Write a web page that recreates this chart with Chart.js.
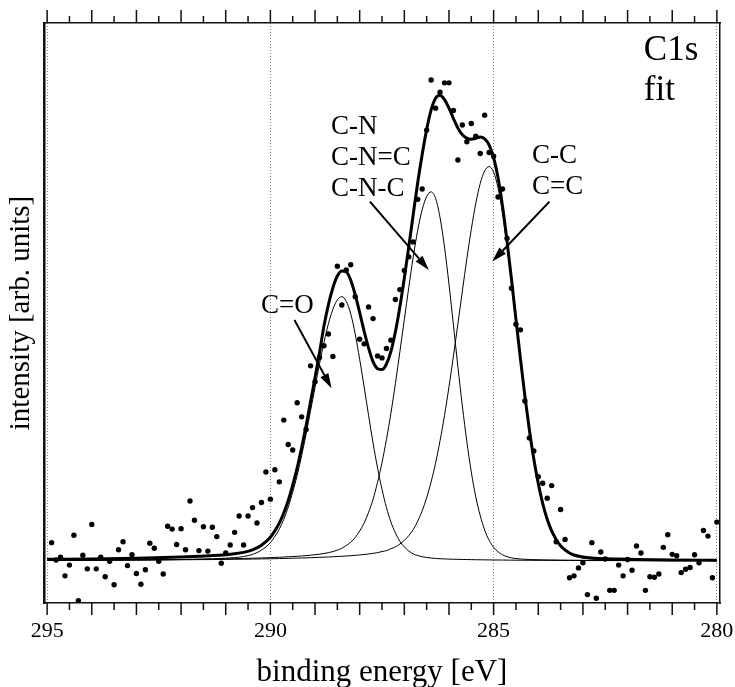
<!DOCTYPE html>
<html>
<head>
<meta charset="utf-8">
<title>C1s fit</title>
<script src="https://cdn.jsdelivr.net/npm/chart.js@4.4.1/dist/chart.umd.min.js"></script>
<style>
  html, body { margin: 0; padding: 0; background: #fff; }
  canvas { display: block; }
</style>
</head>
<body>
<canvas id="c1s" width="735" height="687"></canvas>
<script>
// measured C1s spectrum (binding energy in eV, intensity in arb. units)
const measuredEnergy = [
  294.9, 294.8, 294.7, 294.6, 294.5, 294.4, 294.3, 294.2, 294.1, 294.0,
  293.9, 293.8, 293.7, 293.6, 293.5, 293.4, 293.3, 293.2, 293.1, 293.0,
  292.9, 292.8, 292.7, 292.6, 292.5, 292.4, 292.3, 292.2, 292.1, 292.0,
  291.9, 291.8, 291.7, 291.6, 291.5, 291.4, 291.3, 291.2, 291.1, 291.0,
  290.9, 290.8, 290.7, 290.6, 290.5, 290.4, 290.3, 290.2, 290.1, 290.0,
  289.9, 289.8, 289.7, 289.6, 289.5, 289.4, 289.3, 289.2, 289.1, 289.0,
  288.9, 288.8, 288.7, 288.6, 288.5, 288.4, 288.3, 288.2, 288.1, 288.0,
  287.9, 287.8, 287.7, 287.6, 287.5, 287.4, 287.3, 287.2, 287.1, 287.0,
  286.9, 286.8, 286.7, 286.6, 286.5, 286.4, 286.3, 286.2, 286.1, 286.0,
  285.9, 285.8, 285.7, 285.6, 285.5, 285.4, 285.3, 285.2, 285.1, 285.0,
  284.9, 284.8, 284.7, 284.6, 284.5, 284.4, 284.3, 284.2, 284.1, 284.0,
  283.9, 283.8, 283.7, 283.6, 283.5, 283.4, 283.3, 283.2, 283.1, 283.0,
  282.9, 282.8, 282.7, 282.6, 282.5, 282.4, 282.3, 282.2, 282.1, 282.0,
  281.9, 281.8, 281.7, 281.6, 281.5, 281.4, 281.3, 281.2, 281.1, 281.0,
  280.9, 280.8, 280.7, 280.6, 280.5, 280.4, 280.3, 280.2, 280.1, 280.0
];
const measuredIntensity = [
  3.9, 0.2, 0.8, -3.2, -0.9, 5.5, -8.5, 1.2, -1.7, 7.8,
  -1.7, 0.8, -3.4, -0.1, -5.1, 2.4, 4.1, -1.0, 1.3, -2.7,
  -5.0, -1.9, 3.8, 2.7, -0.1, -2.8, 7.4, 6.8, 3.5, 6.9,
  2.4, 12.8, 8.7, 2.2, 7.3, 2.1, 7.2, 5.2, -0.5, 1.7,
  3.4, 6.1, 9.6, 3.4, 9.6, 11.4, 8.1, 12.5, 19.0, 13.2,
  19.5, 16.9, 30.1, 24.9, 23.7, 33.8, 30.8, 28.1, 41.7, 38.3,
  43.5, 46.0, 48.5, 43.7, 63.0, 54.7, 62.2, 63.3, 56.5, 47.4,
  46.4, 54.3, 51.8, 43.8, 43.4, 45.4, 47.2, 55.9, 58.0, 62.1,
  65.0, 68.2, 77.3, 79.5, 92.1, 102.8, 96.8, 100.2, 102.2, 102.2,
  96.3, 85.7, 93.2, 89.6, 93.5, 90.8, 87.1, 95.3, 87.3, 86.5,
  77.8, 79.5, 69.0, 58.3, 50.6, 49.4, 34.2, 26.3, 23.5, 18.0,
  16.6, 13.4, 16.1, 4.1, 11.0, 4.6, -3.6, -3.2, -1.5, -0.4,
  -7.2, 3.9, -8.0, 1.9, 0.4, -6.3, -6.3, -0.9, -3.2, 0.3,
  -2.0, 3.2, 1.7, -6.3, -3.4, -3.5, -2.8, 2.9, 5.6, 1.4,
  1.1, -2.5, -1.8, -1.4, 1.3, -0.4, 6.5, 5.3, -3.6, 8.3
];

// fitted curves, sampled at fitEnergy
const fitEnergy = [
  295.0, 294.0, 293.0, 292.4, 292.0, 291.6, 291.3, 291.0, 290.8, 290.6, 290.4, 290.2,
  290.0, 289.9, 289.8, 289.7, 289.6, 289.5, 289.4, 289.3, 289.2, 289.1,
  289.0, 288.9, 288.8, 288.7, 288.6, 288.5, 288.4, 288.3, 288.2, 288.1,
  288.0, 287.9, 287.8, 287.7, 287.6, 287.5, 287.4, 287.3, 287.2, 287.1,
  287.0, 286.9, 286.8, 286.7, 286.6, 286.5, 286.4, 286.3, 286.2, 286.1,
  286.0, 285.9, 285.8, 285.7, 285.6, 285.5, 285.4, 285.3, 285.2, 285.1,
  285.0, 284.9, 284.8, 284.7, 284.6, 284.5, 284.4, 284.3, 284.2, 284.1,
  284.0, 283.9, 283.8, 283.7, 283.6, 283.5, 283.4, 283.3, 283.2,
  283.0, 282.8, 282.5, 282.2, 281.8, 281.0, 280.0
];
const fitCO = [
  0.09, 0.13, 0.19, 0.25, 0.30, 0.38, 0.45, 0.58, 0.71, 0.94, 1.4, 2.3,
  3.9, 5.2, 6.8, 8.9, 11.5, 14.7, 18.3, 22.5, 27.1, 32.1,
  37.1, 42.1, 46.7, 50.7, 53.8, 55.8, 56.5, 55.5, 52.8, 48.5,
  43.1, 37.2, 31.1, 25.2, 19.9, 15.3, 11.4, 8.3, 6.0, 4.2,
  3.0, 2.1, 1.5, 1.15, 0.89, 0.72, 0.61, 0.53, 0.46, 0.43,
  0.38, 0.36, 0.33, 0.31, 0.29, 0.27, 0.25, 0.24, 0.22, 0.21,
  0.20, 0.19, 0.18, 0.17, 0.16, 0.15, 0.14, 0.14, 0.13, 0.12,
  0.12, 0.11, 0.11, 0.10, 0.10, 0.09, 0.09, 0.09, 0.08,
  0.08, 0.07, 0.07, 0.06, 0.05, 0.04, 0.03
];
const fitCN = [
  0.13, 0.16, 0.22, 0.26, 0.30, 0.34, 0.39, 0.44, 0.48, 0.52, 0.57, 0.63,
  0.70, 0.74, 0.78, 0.83, 0.88, 0.93, 0.99, 1.06, 1.13, 1.22,
  1.32, 1.44, 1.59, 1.76, 2.0, 2.3, 2.7, 3.3, 4.0, 5.0,
  6.4, 8.1, 10.4, 13.2, 16.8, 21.0, 26.0, 31.6, 37.9, 44.7,
  51.6, 58.5, 65.0, 70.7, 75.1, 77.9, 78.9, 77.5, 73.4, 67.1,
  59.2, 50.4, 41.5, 33.1, 25.5, 19.0, 13.7, 9.7, 6.6, 4.4,
  2.9, 1.95, 1.31, 0.90, 0.65, 0.50, 0.41, 0.35, 0.31, 0.27,
  0.25, 0.23, 0.21, 0.20, 0.19, 0.17, 0.16, 0.15, 0.14,
  0.13, 0.12, 0.10, 0.09, 0.07, 0.05, 0.04
];
const fitCC = [
  0.12, 0.14, 0.18, 0.21, 0.24, 0.27, 0.29, 0.32, 0.35, 0.37, 0.40, 0.43,
  0.46, 0.48, 0.50, 0.52, 0.55, 0.57, 0.60, 0.63, 0.65, 0.69,
  0.72, 0.76, 0.80, 0.84, 0.89, 0.94, 0.99, 1.05, 1.11, 1.19,
  1.27, 1.37, 1.48, 1.61, 1.77, 2.0, 2.2, 2.6, 3.0, 3.6,
  4.4, 5.4, 6.7, 8.5, 10.7, 13.5, 16.9, 20.9, 25.7, 31.1,
  37.2, 43.8, 50.7, 57.7, 64.6, 70.9, 76.4, 80.7, 83.4, 84.3,
  83.1, 79.7, 74.3, 67.3, 59.4, 51.0, 42.7, 34.8, 27.6, 21.4,
  16.2, 11.9, 8.6, 6.1, 4.3, 3.0, 2.1, 1.45, 1.05,
  0.61, 0.41, 0.29, 0.24, 0.19, 0.12, 0.08
];
const fitSum = [
  0.34, 0.43, 0.59, 0.72, 0.84, 0.99, 1.13, 1.34, 1.54, 1.83, 2.37, 3.36,
  5.06, 6.42, 8.08, 10.25, 12.93, 16.2, 19.89, 24.19, 28.88, 34.01,
  39.14, 44.5, 50.2, 54.8, 58.4, 60.9, 62.0, 61.8, 60.0, 56.9,
  53.1, 49.1, 45.5, 42.6, 41.1, 40.9, 42.1, 44.8, 49.0, 54.3,
  60.5, 67.2, 74.1, 80.9, 86.9, 92.2, 96.41, 98.93, 99.56, 98.63,
  96.78, 94.56, 92.53, 91.11, 90.39, 90.17, 90.35, 90.64, 90.22, 88.91,
  86.2, 81.84, 75.79, 68.37, 60.21, 51.65, 43.25, 35.29, 28.04, 21.79,
  16.57, 12.24, 8.92, 6.4, 4.59, 3.26, 2.35, 1.69, 1.27,
  0.82, 0.60, 0.46, 0.39, 0.31, 0.21, 0.15
];

// peak assignments: text anchored at [energy, intensity], arrows from -> to
const peakLabels = [
  { lines: ['C=O'], at: [290.21, 53.0] },
  { lines: ['C-N', 'C-N=C', 'C-N-C'], at: [288.64, 91.2] },
  { lines: ['C-C', 'C=C'], at: [284.14, 85.0] }
];
const peakArrows = [
  { from: [289.46, 51.5], to: [288.63, 36.9] },
  { from: [287.77, 76.8], to: [286.45, 62.2] },
  { from: [283.75, 76.8], to: [285.03, 64.0] }
];
const cornerLabel = { lines: ['C1s', 'fit'], at: [281.635, 107.0] };

const SERIF = "'Liberation Serif', 'Times New Roman', serif";

function points(values) {
  return fitEnergy.map((e, i) => ({ x: e, y: values[i] }));
}

// long ticks on whole eV, short ones on the half, top and bottom
const frameTicks = {
  id: 'frameTicks',
  afterDraw(chart) {
    const { ctx, chartArea: a, scales: { x } } = chart;
    ctx.save();
    ctx.strokeStyle = '#111';
    ctx.lineWidth = 1.5;
    x.ticks.forEach(t => {
      const px = x.getPixelForValue(t.value);
      const major = Math.abs(t.value - Math.round(t.value)) < 1e-6;
      ctx.beginPath();
      ctx.moveTo(px, a.bottom);
      ctx.lineTo(px, a.bottom + (major ? 12 : 7));
      ctx.moveTo(px, a.top);
      ctx.lineTo(px, a.top - (major ? 13 : 7));
      ctx.stroke();
    });
    ctx.restore();
  }
};

function drawArrow(ctx, x1, y1, x2, y2) {
  const ang = Math.atan2(y2 - y1, x2 - x1);
  const len = 15, half = 4.5;
  const bx = x2 - len * Math.cos(ang), by = y2 - len * Math.sin(ang);
  ctx.beginPath();
  ctx.moveTo(x1, y1);
  ctx.lineTo(bx, by);
  ctx.stroke();
  ctx.beginPath();
  ctx.moveTo(x2, y2);
  ctx.lineTo(bx + half * Math.sin(ang), by - half * Math.cos(ang));
  ctx.lineTo(bx - half * Math.sin(ang), by + half * Math.cos(ang));
  ctx.closePath();
  ctx.fill();
}

const peakNotes = {
  id: 'peakNotes',
  afterDatasetsDraw(chart) {
    const { ctx, scales: { x, y } } = chart;
    ctx.save();
    ctx.fillStyle = '#000';
    ctx.strokeStyle = '#000';
    ctx.lineWidth = 2;
    ctx.textAlign = 'left';
    ctx.textBaseline = 'alphabetic';
    ctx.font = '27px ' + SERIF;
    peakLabels.forEach(l => {
      const px = x.getPixelForValue(l.at[0]), py = y.getPixelForValue(l.at[1]);
      l.lines.forEach((s, i) => ctx.fillText(s, px, py + i * 31));
    });
    peakArrows.forEach(a => {
      drawArrow(ctx,
        x.getPixelForValue(a.from[0]), y.getPixelForValue(a.from[1]),
        x.getPixelForValue(a.to[0]), y.getPixelForValue(a.to[1]));
    });
    ctx.font = '35px ' + SERIF;
    const cx = x.getPixelForValue(cornerLabel.at[0]), cy = y.getPixelForValue(cornerLabel.at[1]);
    cornerLabel.lines.forEach((s, i) => ctx.fillText(s, cx, cy + i * 40));
    ctx.restore();
  }
};

const E_MIN = 279.93, E_MAX = 295.07, I_MIN = -9, I_MAX = 115;

new Chart(document.getElementById('c1s'), {
  type: 'line',
  data: {
    datasets: [
      {
        label: 'measured',
        data: measuredEnergy.map((e, i) => ({ x: e, y: measuredIntensity[i] })),
        showLine: false,
        pointRadius: 2.7,
        pointBorderWidth: 0,
        pointBackgroundColor: '#000',
        borderColor: '#000'
      },
      { label: 'fit', data: points(fitSum), borderWidth: 3 },
      { label: 'C=O', data: points(fitCO), borderWidth: 1 },
      { label: 'C-N', data: points(fitCN), borderWidth: 1 },
      { label: 'C-C', data: points(fitCC), borderWidth: 1 }
    ]
  },
  options: {
    responsive: false,
    animation: false,
    devicePixelRatio: 1,
    layout: { padding: 0 },
    plugins: { legend: { display: false }, tooltip: { enabled: false } },
    elements: {
      point: { radius: 0, hoverRadius: 0 },
      line: { borderColor: '#000', fill: false, cubicInterpolationMode: 'monotone' }
    },
    scales: {
      x: {
        type: 'linear', position: 'bottom', reverse: true, min: E_MIN, max: E_MAX,
        afterFit: s => { s.height = 84; s.paddingLeft = 0; s.paddingRight = 0; },
        ticks: {
          stepSize: 0.5, autoSkip: false, maxRotation: 0, includeBounds: false,
          padding: 15, color: '#000', font: { family: SERIF, size: 22 },
          callback: v => (Math.abs(v % 5) < 1e-6 ? String(v) : '')
        },
        grid: {
          drawTicks: false,
          color: c => (c.tick && Math.abs(c.tick.value % 5) < 1e-6 ? '#8a8a8a' : 'rgba(0,0,0,0)'),
          lineWidth: 1
        },
        border: { color: '#111', width: 1.5, dash: [1, 2] },
        title: {
          display: true, text: 'binding energy [eV]', color: '#000',
          font: { family: SERIF, size: 31 }, padding: { top: 0, bottom: -4 }
        }
      },
      x2: {
        type: 'linear', position: 'top', reverse: true, min: E_MIN, max: E_MAX,
        afterFit: s => { s.height = 23; s.paddingLeft = 0; s.paddingRight = 0; },
        ticks: { display: false },
        grid: { display: false, drawTicks: false },
        border: { color: '#111', width: 1.5 }
      },
      y: {
        type: 'linear', position: 'left', min: I_MIN, max: I_MAX,
        afterFit: s => { s.width = 44; },
        ticks: { display: false },
        grid: { display: false, drawTicks: false },
        border: { color: '#111', width: 2.5 },
        title: {
          display: true, text: 'intensity [arb. units]', color: '#000',
          font: { family: SERIF, size: 29 }, padding: { top: 4, bottom: 0 }
        }
      },
      y2: {
        type: 'linear', position: 'right', min: I_MIN, max: I_MAX,
        afterFit: s => { s.width = 15; },
        ticks: { display: false },
        grid: { display: false, drawTicks: false },
        border: { color: '#111', width: 1.5 }
      }
    }
  },
  plugins: [frameTicks, peakNotes]
});
</script>
</body>
</html>
